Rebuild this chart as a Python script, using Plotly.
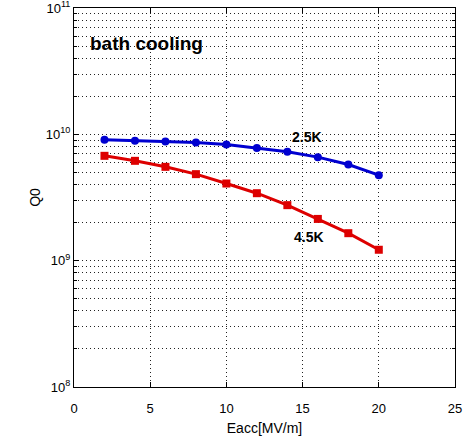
import plotly.graph_objects as go

eacc = [2, 4, 6, 8, 10, 12, 14, 16, 18, 20]
q0_25k = [9.05e9, 8.9e9, 8.77e9, 8.6e9, 8.3e9, 7.8e9, 7.27e9, 6.6e9, 5.77e9, 4.75e9]
q0_45k = [6.76e9, 6.17e9, 5.53e9, 4.84e9, 4.08e9, 3.42e9, 2.75e9, 2.14e9, 1.65e9, 1.22e9]
xticks = [0, 5, 10, 15, 20, 25]
yticks = [1e8, 1e9, 1e10, 1e11]
yticktext = ["10<sup>8</sup>", "10<sup>9</sup>", "10<sup>10</sup>", "10<sup>11</sup>"]

font = "Liberation Sans, Arial, sans-serif"
grid_dash = "1px,3px"
fig = go.Figure()
fig.add_trace(go.Scatter(x=eacc, y=q0_25k, mode="lines+markers",
                         line=dict(color="#0000d0", width=3),
                         marker=dict(symbol="circle", size=8, color="#0000d0")))
fig.add_trace(go.Scatter(x=eacc, y=q0_45k, mode="lines+markers",
                         line=dict(color="#dd0000", width=3),
                         marker=dict(symbol="square", size=8, color="#dd0000")))

fig.add_annotation(x=15.29, y=9.979, text="<b>2.5K</b>", showarrow=False,
                   font=dict(size=14, color="black", family=font), xanchor="center", yanchor="middle")
fig.add_annotation(x=15.42, y=9.187, text="<b>4.5K</b>", showarrow=False,
                   font=dict(size=14, color="black", family=font), xanchor="center", yanchor="middle")
fig.add_annotation(x=0.95, y=10.72, text="<b>bath cooling</b>", showarrow=False,
                   font=dict(size=19, color="black", family=font), xanchor="left", yanchor="middle")

fig.update_layout(
    width=466, height=443,
    margin=dict(l=74, r=11, t=8, b=56, autoexpand=False),
    paper_bgcolor="white", plot_bgcolor="white",
    showlegend=False,
    font=dict(family=font, size=13, color="black"),
    xaxis=dict(range=[0, 25], tickvals=xticks, showline=True, linecolor="black", linewidth=1,
               mirror="ticks", ticks="inside", ticklen=5, tickcolor="black", automargin=False,
               ticklabelstandoff=9, ticklabeloverflow="allow",
               showgrid=True, gridcolor="#222222", griddash=grid_dash, gridwidth=1, zeroline=False,
               title=dict(text="Eacc[MV/m]", standoff=8, font=dict(size=14))),
    yaxis=dict(type="log", range=[7.9999, 11.0001], tickvals=yticks, ticktext=yticktext,
               showline=True, linecolor="black", linewidth=1, automargin=False,
               mirror="ticks", ticks="inside", ticklen=5, tickcolor="black",
               ticklabeloverflow="allow",
               showgrid=True, gridcolor="#222222", griddash=grid_dash, gridwidth=1, zeroline=False,
               minor=dict(dtick="D1", showgrid=True, gridcolor="#222222", griddash=grid_dash,
                          gridwidth=1, ticks="inside", ticklen=3, tickcolor="black"),
               title=dict(text="Q0", standoff=1, font=dict(size=14))),
)
fig.write_html("out.html", config={"displayModeBar": False},
               post_script="document.body.style.margin='0';")
